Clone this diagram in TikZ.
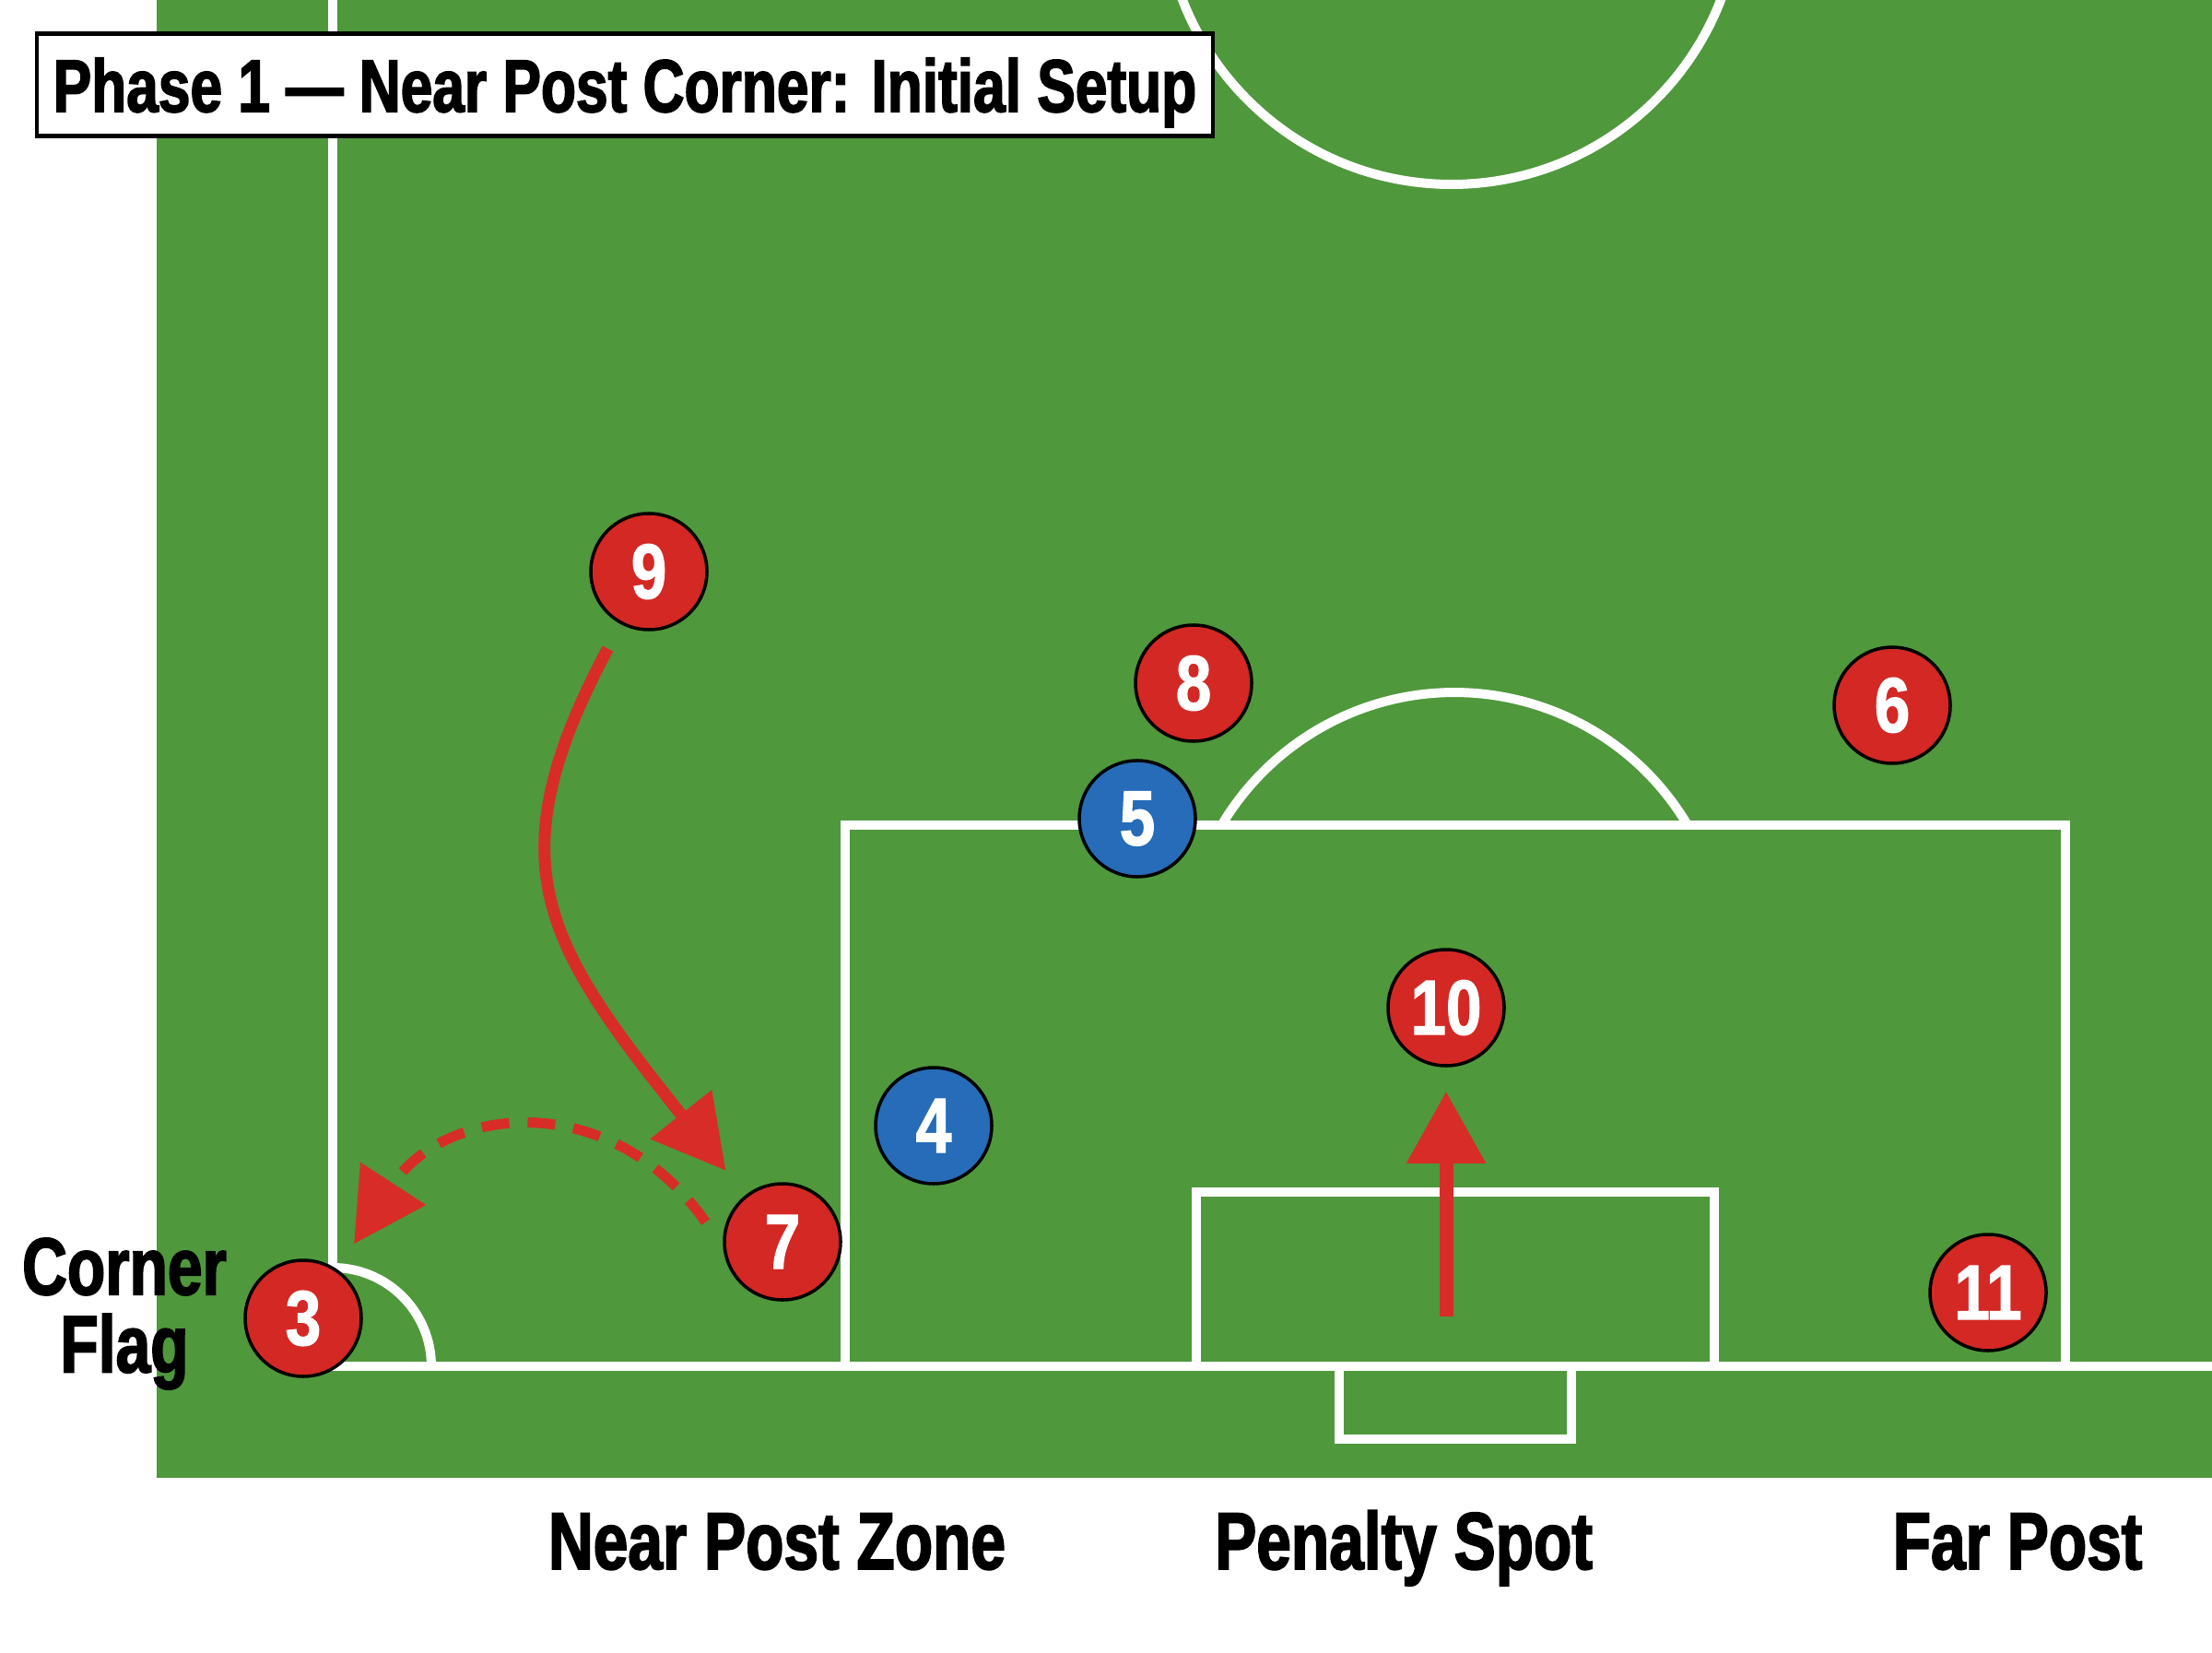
\documentclass[tikz,border=0pt]{standalone}
\usepackage{fontspec}
\newfontfamily\pitchfont{Liberation Sans}[FakeStretch=0.77, FakeBold=2]
\newfontfamily\numberfont{Liberation Sans}[FakeStretch=0.82, FakeBold=1.5]
\usetikzlibrary{arrows.meta}

\definecolor{pitchgreen}{RGB}{79,152,60}
\definecolor{teamred}{RGB}{212,40,36}
\definecolor{teamblue}{RGB}{38,108,184}
\definecolor{runred}{RGB}{216,44,40}

\tikzset{
  pitchline/.style={white, line width=0.1cm},
  attacker/.style={circle, fill=teamred, draw=black, line width=1pt,
    minimum size=1.26cm, inner sep=0pt, text=white,
    font=\numberfont\bfseries\fontsize{24}{24}\selectfont},
  defender/.style={attacker, fill=teamblue},
  run/.style={runred, line width=0.13cm, -{Triangle[length=0.78cm,width=0.82cm]}},
  zone/.style={font=\pitchfont\bfseries\fontsize{25}{24}\selectfont, anchor=base},
}

\begin{document}
\begin{tikzpicture}
    %% Pitch
    \clip (0,0) rectangle (24,17.92);
    \fill[white] (0,0) rectangle (24,17.92);
    \fill[pitchgreen] (1.70,1.89) rectangle (24,17.92);
    \draw[pitchline] (3.61,18.00) -- (3.61,3.10) -- (24.10,3.10);
    \draw[pitchline] (9.17,3.10) -- (9.17,8.97) -- (22.41,8.97) -- (22.41,3.10);
    \draw[pitchline] (12.98,3.10) -- (12.98,4.99) -- (18.60,4.99) -- (18.60,3.10);
    \draw[pitchline] (14.53,3.10) -- (14.53,2.31) -- (17.05,2.31) -- (17.05,3.10);
    \draw[pitchline] (15.75,19.05) circle (3.13);
    \draw[pitchline] (18.31,8.97) arc (30.7:149.3:2.94);
    \draw[pitchline] (4.68,3.10) arc (0:90:1.07);
    %% Players
    \node[attacker] (p9) at (7.04,11.72) {9};
    \node[attacker] (p8) at (12.95,10.51) {8};
    \node[attacker] (p6) at (20.53,10.27) {6};
    \node[defender] (p5) at (12.34,9.04) {5};
    \node[attacker] (p10) at (15.69,6.99) {10};
    \node[defender] (p4) at (10.13,5.71) {4};
    \node[attacker] (p7) at (8.49,4.45) {7};
    \node[attacker] (p3) at (3.29,3.62) {3};
    \node[attacker] (p11) at (21.57,3.90) {11};
    %% Runs
    \draw[run, shorten <=0.30cm, shorten >=0.34cm]
        (p9) .. controls (5.35,8.55) and (5.90,7.70) .. (p7);
    \draw[run, line width=0.11cm, dash pattern=on 0.30cm off 0.20cm,
        shorten <=0.33cm, shorten >=0.33cm]
        (p7.185) to[out=125, in=57, looseness=1.3] (p3.55);
    \coordinate (spot) at (15.69,3.64);
    \draw[run, line width=0.15cm, shorten >=0.26cm] (spot) -- (p10);
    %% Labels
    \node[draw=black, line width=1.2pt, fill=white, minimum width=12.76cm,
        minimum height=1.11cm, inner sep=0pt, text depth=0pt,
        font=\pitchfont\bfseries\fontsize{23}{23}\selectfont]
        (title) at (6.78,17.00) {Phase 1 — Near Post Corner: Initial Setup};
    \node[zone, anchor=center, align=center] (flag) at (1.35,3.67) {Corner\\Flag};
    \node[zone] (near) at (8.43,0.90) {Near Post Zone};
    \node[zone] (spotlbl) at (15.23,0.90) {Penalty Spot};
    \node[zone] (far) at (21.89,0.90) {Far Post};
\end{tikzpicture}
\end{document}
